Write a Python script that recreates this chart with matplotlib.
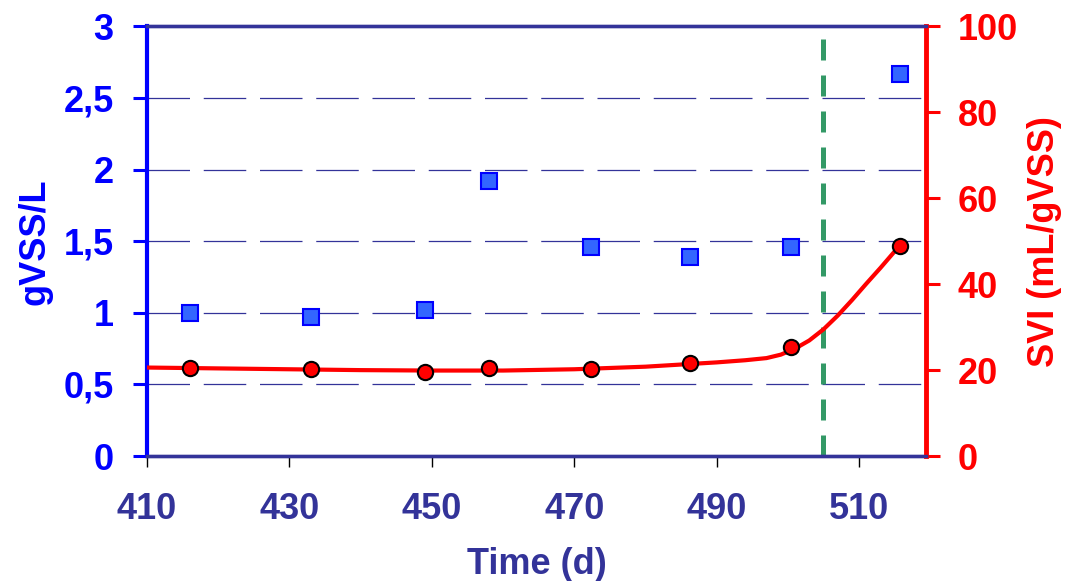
import matplotlib.pyplot as plt

plt.rcParams['font.family'] = ['Liberation Sans', 'DejaVu Sans']
plt.rcParams['font.weight'] = 'bold'

# data
days = [416, 433, 449, 458, 472.3, 486.2, 500.5, 515.7]
vss = [1.00, 0.97, 1.02, 1.92, 1.457, 1.39, 1.457, 2.67]
svi = [20.4, 20.3, 19.5, 20.4, 20.3, 21.7, 25.3, 49.0]

# trend line
trend_x = [410, 420, 430, 440, 450, 460, 470, 480, 490, 494, 497, 499,
           501, 503, 505, 507, 509, 511, 513, 515.7]
trend_y = [20.6, 20.4, 20.2, 20.0, 19.9, 19.9, 20.2, 20.8, 21.8, 22.3, 22.8,
           23.6, 25.0, 26.9, 29.5, 32.7, 36.3, 40.1, 43.8, 49.0]

event_day = 505

x_ticks = [410, 430, 450, 470, 490, 510]
left_ticks = [0, 0.5, 1, 1.5, 2, 2.5, 3]
left_labels = ['0', '0,5', '1', '1,5', '2', '2,5', '3']
right_ticks = [0, 20, 40, 60, 80, 100]

navy = '#333399'
blue = '#0000ff'
red = '#ff0000'
fs = 26

fig = plt.figure(figsize=(10.66, 5.81), dpi=100)
ax1 = fig.add_axes([0.1379, 0.2151, 0.8687 - 0.1379, 0.9544 - 0.2151])
ax2 = ax1.twinx()

# grid
for v in left_ticks[1:-1]:
    ax1.axhline(v, color=navy, lw=0.9, dashes=(34, 11), zorder=1)

ax1.axvline(event_day, color='#339966', lw=3.6, dashes=(4.2, 3.0), zorder=2)

ax1.plot(days, vss, ls='none', marker='s', ms=11.5, mfc='#3366ff', mec=blue,
         mew=1.5, zorder=3)

ax2.plot(trend_x, trend_y, color=red, lw=3, zorder=3)
ax2.plot(days, svi, ls='none', marker='o', ms=11, mfc=red, mec='black',
         mew=1.5, zorder=4)

ax1.set_xlim(410, 519.4)
ax1.set_ylim(0, 3)
ax2.set_ylim(0, 100)

ax1.set_xticks(x_ticks)
ax1.set_xticklabels([str(t) for t in x_ticks], color=navy, fontsize=fs,
                    fontweight='bold')
ax1.set_yticks(left_ticks)
ax1.set_yticklabels(left_labels, color=blue, fontsize=fs, fontweight='bold')
ax2.set_yticks(right_ticks)
ax2.set_yticklabels([str(t) for t in right_ticks], color=red, fontsize=fs,
                    fontweight='bold')

ax1.tick_params(axis='x', direction='out', length=8, width=1, color='black', pad=18)
ax1.tick_params(axis='y', direction='out', length=10, width=2.2, color=blue, pad=14)
ax2.tick_params(axis='y', direction='out', length=10, width=2.2, color=red, pad=13)

for ax in (ax1, ax2):
    ax.spines['top'].set_color(navy)
    ax.spines['top'].set_linewidth(2.4)
    ax.spines['bottom'].set_color(navy)
    ax.spines['bottom'].set_linewidth(2.4)
ax1.spines['left'].set_color(blue)
ax1.spines['left'].set_linewidth(3)
ax1.spines['right'].set_visible(False)
ax2.spines['left'].set_visible(False)
ax2.spines['right'].set_color(red)
ax2.spines['right'].set_linewidth(3.5)

ax1.set_xlabel('Time (d)', color=navy, fontsize=fs, fontweight='bold')
ax1.xaxis.set_label_coords(0.5, -0.212)
ax1.set_ylabel('gVSS/L', color=blue, fontsize=fs, fontweight='bold')
ax1.yaxis.set_label_coords(-0.121, 0.5)
ax2.set_ylabel('SVI (mL/gVSS)', color=red, fontsize=fs, fontweight='bold')
ax2.yaxis.set_label_coords(1.13, 0.5)

fig.savefig('out.png', dpi=100)
